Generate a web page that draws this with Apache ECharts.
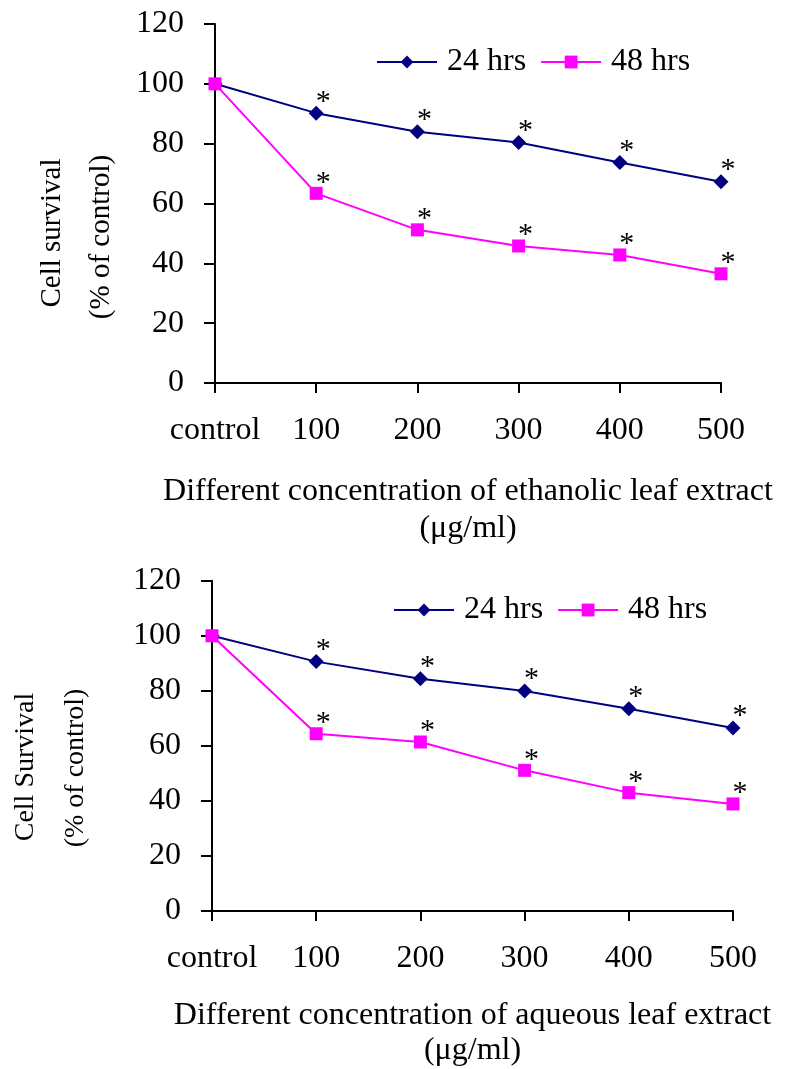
<!DOCTYPE html>
<html>
<head>
<meta charset="utf-8">
<script src="https://cdn.jsdelivr.net/npm/echarts@6/dist/echarts.min.js"></script>
<style>html,body{margin:0;padding:0;background:#fff;}#c{width:790px;height:1069px;}</style>
</head>
<body>
<div id="c"></div>
<script>
// ---- data ----
var categories = ['control', '100', '200', '300', '400', '500'];
var eth24 = [100, 90.2, 84.0, 80.4, 73.7, 67.3];
var eth48 = [100, 63.4, 51.2, 45.8, 42.8, 36.5];
var aq24 = [100, 90.6, 84.4, 79.9, 73.5, 66.5];
var aq48 = [100, 64.4, 61.4, 51.1, 43.0, 38.9];
var sig = ['', '*', '*', '*', '*', '*'];
var seriesNames = ['24 hrs', '48 hrs'];
var yMin = 0, yMax = 120, yStep = 20;
var xTitle1 = 'Different concentration of ethanolic leaf extract\n(\u03bcg/ml)';
var xTitle2 = 'Different concentration of aqueous leaf extract\n(\u03bcg/ml)';

var FONT = '"Liberation Serif", "Times New Roman", serif';
var NAVY = '#000080', MAG = '#FF00FF';

function xAxis(gi, name, gap, lh) {
  return {
    type: 'category', gridIndex: gi, data: categories, boundaryGap: false,
    axisLine: {lineStyle: {color: '#000', width: 2}},
    axisTick: {show: true, interval: 0, length: 10, lineStyle: {color: '#000', width: 2}},
    axisLabel: {interval: 0, color: '#000', fontFamily: FONT, fontSize: 32, margin: 32},
    splitLine: {show: false},
    name: name, nameLocation: 'middle', nameGap: gap,
    nameTextStyle: {color: '#000', fontFamily: FONT, fontSize: 32, lineHeight: lh}
  };
}
function yAxis(gi) {
  return {
    type: 'value', gridIndex: gi, min: yMin, max: yMax, interval: yStep,
    axisLine: {show: true, lineStyle: {color: '#000', width: 2}},
    axisTick: {show: true, length: 11, lineStyle: {color: '#000', width: 2}},
    axisLabel: {color: '#000', fontFamily: FONT, fontSize: 32, margin: 31},
    splitLine: {show: false}
  };
}
function starLabel() {
  return {
    show: true, position: 'top', offset: [7, 16],
    formatter: function (p) { return sig[p.dataIndex]; },
    color: '#000', fontFamily: FONT, fontSize: 30
  };
}
function line(name, data, gi, color, symbol, size) {
  return {
    name: name, type: 'line', xAxisIndex: gi, yAxisIndex: gi, data: data,
    symbol: symbol, symbolSize: size, showSymbol: true,
    lineStyle: {color: color, width: 2}, itemStyle: {color: color},
    label: starLabel(), animation: false
  };
}
function legend(left, top) {
  return {
    left: left, top: top, padding: 0, itemWidth: 60, itemHeight: 16, itemGap: 14,
    data: seriesNames.map(function (n) { return {name: n}; }),
    textStyle: {color: '#000', fontFamily: FONT, fontSize: 32, padding: [0, 0, 0, 5]},
    selectedMode: false
  };
}

var chart = echarts.init(document.getElementById('c'), null, {renderer: 'canvas'});
chart.setOption({
  backgroundColor: '#fff',
  animation: false,
  grid: [
    {left: 215, top: 24, width: 506, height: 359},
    {left: 212, top: 580.7, width: 521, height: 335.3}
  ],
  legend: [legend(376, 46), legend(393, 594)],
  xAxis: [xAxis(0, xTitle1, 90, 37), xAxis(1, xTitle2, 87, 35)],
  yAxis: [yAxis(0), yAxis(1)],
  series: [
    line(seriesNames[0], eth24, 0, NAVY, 'diamond', 15),
    line(seriesNames[1], eth48, 0, MAG, 'rect', 13),
    line(seriesNames[0], aq24, 1, NAVY, 'diamond', 15),
    line(seriesNames[1], aq48, 1, MAG, 'rect', 13)
  ],
  graphic: [
    {type: 'text', x: 52, y: 233, rotation: Math.PI / 2,
     style: {text: 'Cell survival', font: '29px ' + FONT, fill: '#000', textAlign: 'center', textVerticalAlign: 'middle'}},
    {type: 'text', x: 101, y: 237, rotation: Math.PI / 2,
     style: {text: '(% of control)', font: '29px ' + FONT, fill: '#000', textAlign: 'center', textVerticalAlign: 'middle'}},
    {type: 'text', x: 26, y: 767, rotation: Math.PI / 2,
     style: {text: 'Cell Survival', font: '28px ' + FONT, fill: '#000', textAlign: 'center', textVerticalAlign: 'middle'}},
    {type: 'text', x: 76, y: 768, rotation: Math.PI / 2,
     style: {text: '(% of control)', font: '28px ' + FONT, fill: '#000', textAlign: 'center', textVerticalAlign: 'middle'}}
  ]
});
</script>
</body>
</html>
